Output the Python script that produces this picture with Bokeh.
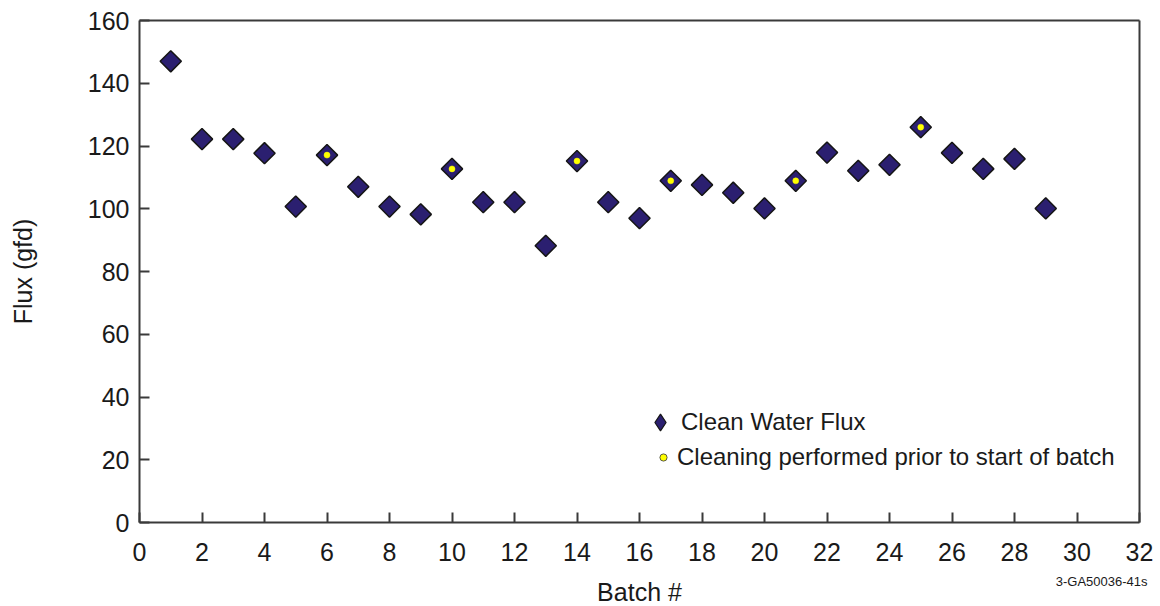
import numpy as np
from bokeh.plotting import figure
from bokeh.models import (Legend, LegendItem, ColumnDataSource, Label, FixedTicker, Range1d,
                          LinearAxis)
from bokeh.embed import file_html
from bokeh.resources import INLINE

batch = list(range(1, 30))
flux = [147.0, 122.2, 122.2, 117.7, 100.7, 117.1, 107.0, 100.7, 98.2, 112.7,
        102.1, 102.1, 88.2, 115.2, 102.1, 97.0, 108.9, 107.6, 105.1, 100.1,
        108.9, 117.9, 112.1, 114.0, 126.0, 117.8, 112.7, 115.9, 100.1]
cleaning_batches = [6, 10, 14, 17, 21, 25]
x_ticks = list(range(0, 33, 2))
y_ticks = list(range(0, 161, 20))
X_MIN, X_MAX = 0, 32
Y_MIN, Y_MAX = 0, 160

clean_flux = [flux[batch.index(b)] for b in cleaning_batches]

FONT = "Liberation Sans"
NAVY = "#2b1f70"
LINE = "#3a3a3a"
TXT = "#1a1a1a"

W, H = 1160, 606
L, R, T, B = 139, 1139, 20, 522   # where the plot box sits on the page
xs = (R - L) / (X_MAX - X_MIN)
ys = (B - T) / (Y_MAX - Y_MIN)

# the frame fills the whole page; the axes are fixed at the box edges
p = figure(width=W, height=H, output_backend="svg", toolbar_location=None,
           x_range=Range1d(X_MIN - L / xs, X_MAX + (W - R) / xs),
           y_range=Range1d(Y_MIN - (H - B) / ys, Y_MAX + T / ys),
           min_border=0)
p.xgrid.visible = False
p.ygrid.visible = False
p.background_fill_color = "white"
p.border_fill_color = "white"
p.outline_line_color = None

src = ColumnDataSource(dict(x=batch, y=flux))
r1 = p.scatter("x", "y", source=src, marker="square", angle=np.pi / 4, size=15,
               fill_color=NAVY, line_color="#151515", line_width=1.5)
src2 = ColumnDataSource(dict(x=cleaning_batches, y=clean_flux))
r2 = p.scatter("x", "y", source=src2, marker="circle", size=6,
               fill_color="#ffff00", line_color="#ffff00", line_width=0.5)

# hidden twins used only to draw the legend keys
leg1 = p.scatter("x", "y", source=src, marker="diamond", fill_color=NAVY,
                 line_color="#151515", line_width=1.2, visible=False)
leg2 = p.scatter("x", "y", source=src2, marker="circle", fill_color="#ffff00",
                 line_color="#333333", line_width=0.8, visible=False)

xa = p.xaxis[0]
ya = p.yaxis[0]
xa.fixed_location = Y_MIN
xa.bounds = (X_MIN, X_MAX)
ya.fixed_location = X_MIN
ya.bounds = (Y_MIN, Y_MAX)
for ax in (xa, ya):
    ax.axis_line_color = LINE
    ax.axis_line_width = 2
    ax.major_tick_line_color = LINE
    ax.major_tick_line_width = 2
    ax.major_tick_in = 10
    ax.major_tick_out = 0
    ax.minor_tick_line_color = None
    ax.major_label_text_font = FONT
    ax.major_label_text_font_size = "25px"
    ax.major_label_text_color = TXT
xa.ticker = FixedTicker(ticks=x_ticks)
ya.ticker = FixedTicker(ticks=y_ticks)
xa.major_label_standoff = 20
ya.major_label_standoff = 10

# top and right border lines of the box
top = LinearAxis(fixed_location=Y_MAX, bounds=(X_MIN, X_MAX), ticker=FixedTicker(ticks=[]),
                 axis_line_color=LINE, axis_line_width=2, major_tick_line_color=None,
                 minor_tick_line_color=None)
right = LinearAxis(fixed_location=X_MAX, bounds=(Y_MIN, Y_MAX), ticker=FixedTicker(ticks=[]),
                   axis_line_color=LINE, axis_line_width=2, major_tick_line_color=None,
                   minor_tick_line_color=None)
p.add_layout(top, "above")
p.add_layout(right, "right")

# axis titles
p.add_layout(Label(x=(L + R) / 2, y=H - 591, x_units="screen", y_units="screen", text="Batch #",
                   text_font=FONT, text_font_size="25px", text_color=TXT,
                   text_align="center", text_baseline="middle"))
p.add_layout(Label(x=22, y=H - 271, x_units="screen", y_units="screen", text="Flux (gfd)",
                   angle=np.pi / 2, text_font=FONT, text_font_size="25px", text_color=TXT,
                   text_align="center", text_baseline="middle"))

common = dict(border_line_color=None, background_fill_alpha=0,
              label_text_font=FONT, label_text_font_size="24px", label_text_color=TXT,
              padding=0, margin=0, inactive_fill_alpha=0)
legend1 = Legend(items=[LegendItem(label="Clean Water Flux", renderers=[leg1])],
                 location=(639, 163), glyph_width=42, glyph_height=42, label_standoff=0, **common)
legend2 = Legend(items=[LegendItem(label="Cleaning performed prior to start of batch", renderers=[leg2])],
                 location=(654, 135), glyph_width=18, glyph_height=18, label_standoff=5, **common)
p.add_layout(legend1, "center")
p.add_layout(legend2, "center")

p.add_layout(Label(x=1147, y=18, x_units="screen", y_units="screen", text="3-GA50036-41s",
                   text_font=FONT, text_font_size="13px", text_color=TXT,
                   text_align="right"))

open("out.html", "w").write(file_html(p, INLINE))
